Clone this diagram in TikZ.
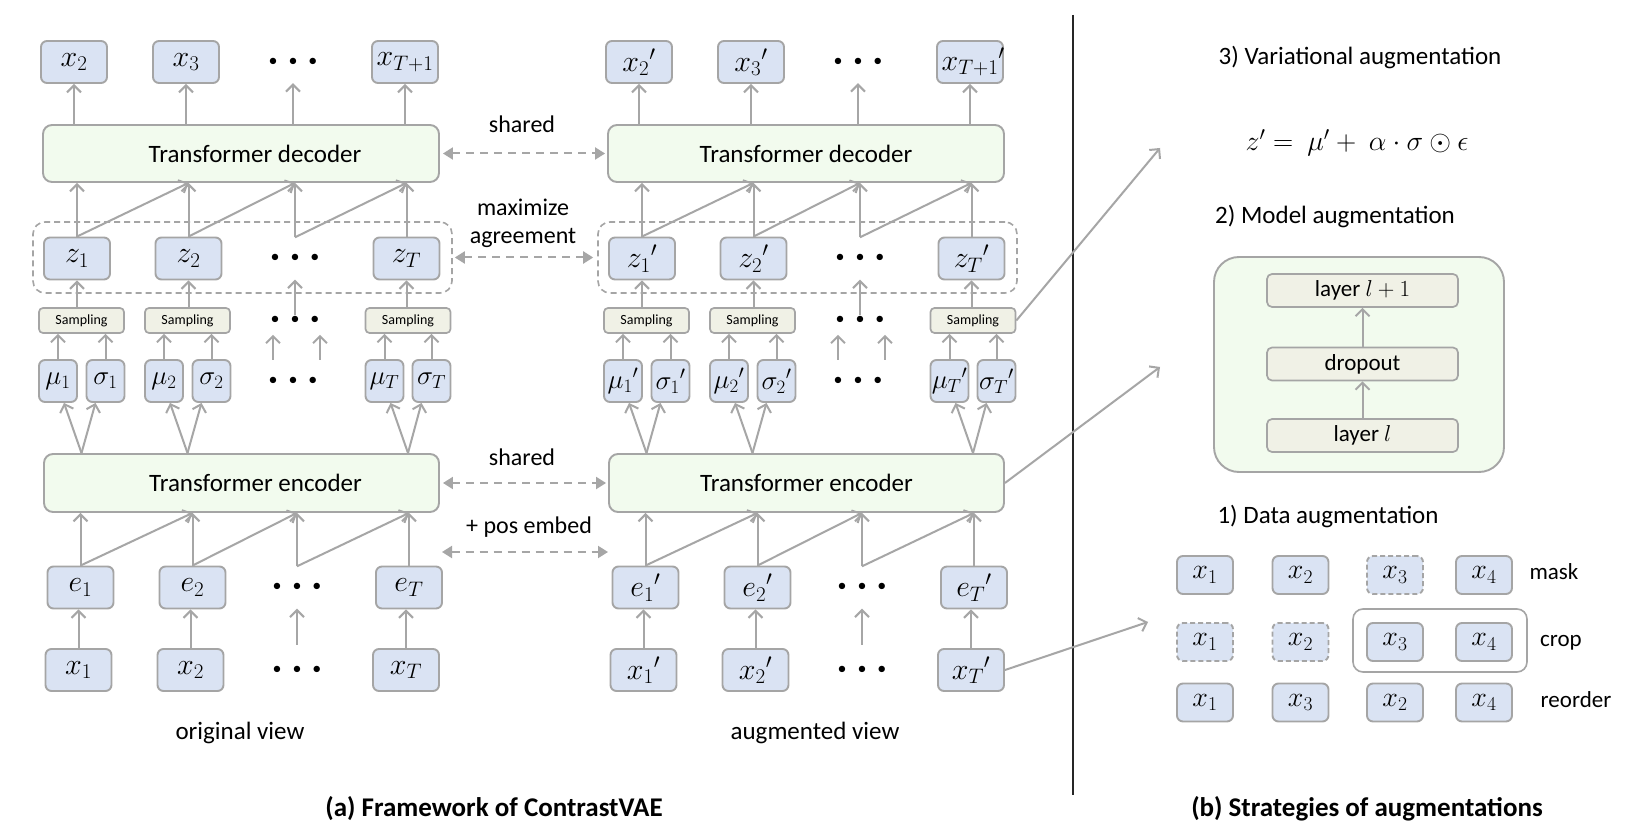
\RequirePackage{fix-cm}
\documentclass[tikz,border=0pt]{standalone}
\usepackage[no-math]{fontspec}
\setmainfont{Carlito}
\usetikzlibrary{arrows.meta,calc}
\newcommand\fsz[1]{\fontsize{#1}{#1}\selectfont}
\newcommand\tdots{\textbullet\hspace{11pt}\textbullet\hspace{11pt}\textbullet}
\definecolor{tokblue}{HTML}{DAE3F3}
\definecolor{bord}{HTML}{A5A5A5}
\definecolor{trgreen}{HTML}{F2FBEE}
\definecolor{sampfill}{HTML}{F0F1E6}
\definecolor{arrg}{HTML}{A6A6A6}
\tikzset{
 tok/.style={draw=bord, fill=tokblue, line width=1.9pt, rounded corners=6pt, minimum width=66pt, minimum height=42pt, inner sep=1pt, font=\fsz{30}},
 ms/.style={tok, minimum width=38pt, font=\fsz{27}},
 dtok/.style={tok, minimum width=56pt, minimum height=38pt, font=\fsz{28}},
 dtokd/.style={dtok, dash pattern=on 5pt off 3pt},
 trans/.style={draw=bord, fill=trgreen, line width=1.9pt, rounded corners=9pt, minimum height=57pt, font=\fsz{25}},
 samp/.style={draw=bord, fill=sampfill, line width=1.7pt, rounded corners=4pt, minimum width=85pt, minimum height=25pt, inner sep=0pt, font=\fsz{14}},
 layerbox/.style={draw=bord, fill=sampfill, line width=1.7pt, rounded corners=5pt, minimum width=191pt, minimum height=33pt, inner sep=0pt, font=\fsz{23}},
 dotsn/.style={minimum height=42pt, inner sep=0pt, font=\fsz{18}},
 grp/.style={draw=bord, dash pattern=on 6pt off 4pt, line width=1.6pt, rounded corners=12pt},
 arr/.style={draw=arrg, line width=2pt, -{Straight Barb[length=7pt,width=14pt]}},
 sharr/.style={draw=arrg, line width=2pt, dash pattern=on 8pt off 6pt, {Triangle[length=10pt,width=12pt]}-{Triangle[length=10pt,width=12pt]}},
 lbl/.style={font=\fsz{24}, inner sep=0pt},
 rlbl/.style={font=\fsz{25}, inner sep=0pt},
 slbl/.style={font=\fsz{23}, inner sep=0pt},
}
% #1 suffix, #2 x offset, #3 prime, #4 x_{T+1} content, #5 text shift
\newcommand\myview[5]{%
 \node[tok] (xoA#1) at (74+#2,62) {${x_2}#3$};
 \node[tok] (xoB#1) at (186+#2,62) {${x_3}#3$};
 \node[dotsn] (xoC#1) at (293+#2,62) {\tdots};
 \node[tok] (xoD#1) at (405+#2,62) {#4};
 \node[trans, minimum width=396pt] (dec#1) at (241+#2,153.5) {#5Transformer decoder};
 \foreach \n in {A,B,C,D} {\draw[arr] (dec#1.north -| xo\n#1) -- (xo\n#1.south);}
 \node[grp, minimum width=419pt, minimum height=71pt] (grp#1) at (242.5+#2,257.5) {};
 \node[tok] (zA#1) at (77+#2,258.5) {${z_1}#3$};
 \node[tok] (zB#1) at (188.5+#2,258.5) {${z_2}#3$};
 \node[dotsn] (zC#1) at (295+#2,258.5) {\tdots};
 \node[tok] (zD#1) at (406.5+#2,258.5) {${z_T}#3$};
 \draw[arr] (zA#1.north) -- (zA#1.north |- dec#1.south);
 \draw[arr] (zA#1.north) -- (zB#1.north |- dec#1.south);
 \draw[arr] (zB#1.north) -- (zB#1.north |- dec#1.south);
 \draw[arr] (zB#1.north) -- (zC#1.north |- dec#1.south);
 \draw[arr] (zC#1.north) -- (zC#1.north |- dec#1.south);
 \draw[arr] (zC#1.north) -- (zD#1.north |- dec#1.south);
 \draw[arr] (zD#1.north) -- (zD#1.north |- dec#1.south);
 \node[samp] (sA#1) at (81.5+#2,320.5) {Sampling};
 \node[samp] (sB#1) at (187.5+#2,320.5) {Sampling};
 \node[dotsn, minimum height=25pt] (sC#1) at (295+#2,320.5) {\tdots};
 \node[samp] (sD#1) at (408+#2,320.5) {Sampling};
 \foreach \n in {A,B,D} {\draw[arr] (s\n#1.north -| z\n#1) -- (z\n#1.south);}
 \draw[arr] ($(sC#1.north)+(0,7)$) -- (zC#1.south);
 \node[ms] (mA#1) at (58+#2,381) {${\mu_1}#3$};
 \node[ms] (gA#1) at (105.5+#2,381) {${\sigma_1}#3$};
 \node[ms] (mB#1) at (164+#2,381) {${\mu_2}#3$};
 \node[ms] (gB#1) at (211.5+#2,381) {${\sigma_2}#3$};
 \node[dotsn] (mC#1) at (293+#2,381) {\tdots};
 \node[ms] (mD#1) at (384.5+#2,381) {${\mu_T}#3$};
 \node[ms] (gD#1) at (431.5+#2,381) {${\sigma_T}#3$};
 \foreach \n in {A,B,D} {
   \draw[arr] (m\n#1.north) -- (m\n#1.north |- s\n#1.south);
   \draw[arr] (g\n#1.north) -- (g\n#1.north |- s\n#1.south);
 }
 \draw[arr] ($(mC#1.north)+(-20,0)$) -- ($(mC#1.north)+(-20,-25)$);
 \draw[arr] ($(mC#1.north)+(27,0)$) -- ($(mC#1.north)+(27,-25)$);
 \node[trans, minimum width=395pt, minimum height=58pt] (enc#1) at (241.5+#2,483) {#5Transformer encoder};
 \foreach \n in {A,B,D} {
   \draw[arr] (enc#1.north -| s\n#1) -- ($(m\n#1.south)+(6,0)$);
   \draw[arr] (enc#1.north -| s\n#1) -- ($(g\n#1.south)+(-10,0)$);
 }
 \node[tok] (eA#1) at (80.5+#2,587.5) {${e_1}#3$};
 \node[tok] (eB#1) at (192.5+#2,587.5) {${e_2}#3$};
 \node[dotsn] (eC#1) at (297+#2,587.5) {\tdots};
 \node[tok] (eD#1) at (409+#2,587.5) {${e_T}#3$};
 \draw[arr] (eA#1.north) -- (eA#1.north |- enc#1.south);
 \draw[arr] (eA#1.north) -- (eB#1.north |- enc#1.south);
 \draw[arr] (eB#1.north) -- (eB#1.north |- enc#1.south);
 \draw[arr] (eB#1.north) -- (eC#1.north |- enc#1.south);
 \draw[arr] (eC#1.north) -- (eC#1.north |- enc#1.south);
 \draw[arr] (eC#1.north) -- (eD#1.north |- enc#1.south);
 \draw[arr] (eD#1.north) -- (eD#1.north |- enc#1.south);
 \node[tok] (xA#1) at (78.5+#2,670) {${x_1}#3$};
 \node[tok] (xB#1) at (190.5+#2,670) {${x_2}#3$};
 \node[dotsn] (xC#1) at (297+#2,670) {\tdots};
 \node[tok] (xD#1) at (406+#2,670) {${x_T}#3$};
 \foreach \n in {A,B,D} {\draw[arr] (x\n#1.north) -- (x\n#1.north |- e\n#1.south);}
 \draw[arr] ($(xC#1.north)+(0,-4)$) -- (eC#1.south);
}
\begin{document}
\begin{tikzpicture}[x=1pt,y=-1pt]
\useasboundingbox (0,0) rectangle (1652,826);
\fill[white] (0,0) rectangle (1652,826);

\myview{L}{0}{}{$x_{T+1}$}{\hspace*{28pt}}
\myview{R}{565}{^{\prime}}{$x_{T+1}\rlap{$^{\prime}$}$}{}

% between the views
\draw[sharr] ([xshift=3pt]decL.east) -- ([xshift=-2pt]decR.west);
\node[lbl] (sh1) at (522,124) {shared};
\draw[sharr] ([xshift=2pt]grpL.east) -- ([xshift=-4pt]grpR.west);
\node[lbl, align=center, font=\fontsize{24}{28}\selectfont] (maxag) at (523,223) {maximize\\agreement};
\draw[sharr] ([xshift=3pt]encL.east) -- ([xshift=-2pt]encR.west);
\node[lbl] (sh2) at (522,457) {shared};
\coordinate (pe1) at (442,552);
\coordinate (pe2) at (608,552);
\draw[sharr] (pe1) -- (pe2);
\node[lbl] (posemb) at (529,527) {+ pos embed};

\node[lbl, font=\fsz{25}] (ov) at (240,733) {original view};
\node[lbl, font=\fsz{25}] (av) at (815,733) {augmented view};

% separator
\coordinate (sep1) at (1073,15);
\coordinate (sep2) at (1073,795);
\draw[line width=2pt, black!85] (sep1) -- (sep2);

% titles
\node[font=\fsz{27}\bfseries, inner sep=0pt] (tia) at (494,809) {(a) Framework of ContrastVAE};
\node[font=\fsz{27}\bfseries, inner sep=0pt] (tib) at (1367,809) {(b) Strategies of augmentations};

% right panel
\node[rlbl] (t3) at (1360,58) {3) Variational augmentation};
\node[font=\fsz{28}, inner sep=0pt] (form) at (1357,143) {$z' =\ \mu' +\ \alpha\cdot\sigma\odot\epsilon$};
\node[rlbl] (t2) at (1335,217) {2) Model augmentation};
\node[draw=bord, fill=trgreen, line width=1.9pt, rounded corners=25pt, minimum width=290pt, minimum height=215pt] (mbox) at (1359,364.5) {};
\node[layerbox] (l2) at (1362.5,290.5) {layer $l+1$};
\node[layerbox] (dp) at (1362.5,364) {dropout};
\node[layerbox] (l1) at (1362.5,435.5) {layer $l$};
\draw[arr] (l1.north) -- (dp.south);
\draw[arr] (dp.north) -- (l2.south);

\node[rlbl] (t1) at (1328,517) {1) Data augmentation};
\node[draw=bord, line width=1.6pt, rounded corners=10pt, minimum width=174pt, minimum height=63pt] (cropbox) at (1440,640.5) {};
\node[dtok] (a11) at (1205,575) {$x_1$};
\node[dtok] (a12) at (1300.5,575) {$x_2$};
\node[dtokd] (a13) at (1395,575) {$x_3$};
\node[dtok] (a14) at (1484,575) {$x_4$};
\node[dtokd] (a21) at (1205,642) {$x_1$};
\node[dtokd] (a22) at (1300.5,642) {$x_2$};
\node[dtok] (a23) at (1395,642) {$x_3$};
\node[dtok] (a24) at (1484,642) {$x_4$};
\node[dtok] (a31) at (1205,702.5) {$x_1$};
\node[dtok] (a32) at (1300.5,702.5) {$x_3$};
\node[dtok] (a33) at (1395,702.5) {$x_2$};
\node[dtok] (a34) at (1484,702.5) {$x_4$};
\node[slbl] (mk) at (1554,572) {mask};
\node[slbl] (cr) at (1561,643) {crop};
\node[slbl] (ro) at (1576,700) {reorder};

% connectors to right panel
\coordinate (tgA) at (1160,148);
\coordinate (tgB) at (1160,367);
\coordinate (tgC) at (1148,622);
\draw[arr] (sDR.east) -- (tgA);
\draw[arr] (encR.east) -- (tgB);
\draw[arr] (xDR.east) -- (tgC);
\end{tikzpicture}
\end{document}
